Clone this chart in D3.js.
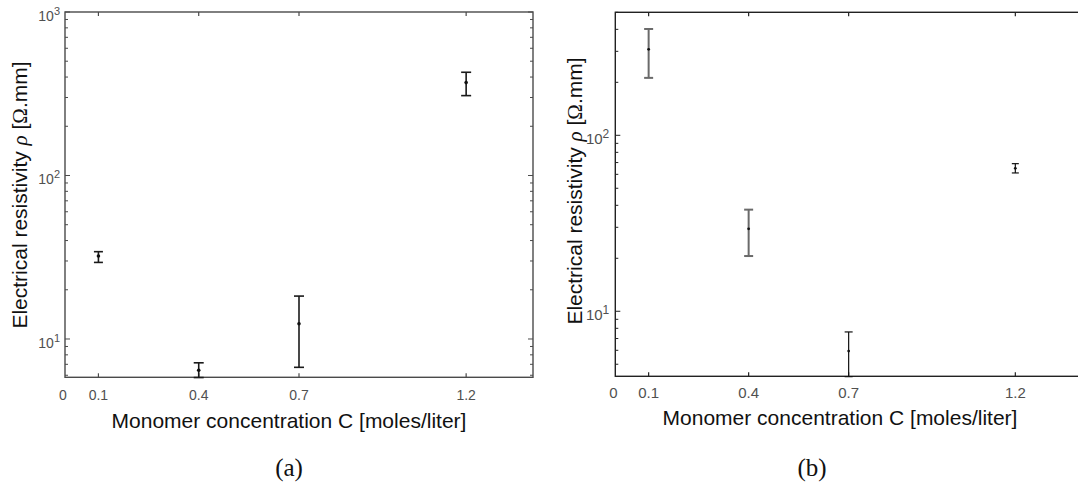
<!DOCTYPE html>
<html lang="en">
  <head>
    <meta charset="UTF-8">
    <title>Electrical resistivity vs monomer concentration</title>
    <style>
      body { margin: 0; background: #fff; }
      svg { display: block; }
      .tick-label { font-family: "Liberation Sans", Arial, sans-serif; fill: #505050; }
      .title { font-family: "Liberation Sans", Arial, sans-serif; font-size: 21px; fill: #111; }
      .panel-tag { font-family: "Liberation Serif", "Times New Roman", serif; font-size: 25px; fill: #111; }
      .sym { font-family: "Liberation Serif", "Times New Roman", serif; }
    </style>
    <script src="https://d3js.org/d3.v7.min.js"></script>
  </head>
  <body>
    <script>
      // values
      const concentration = [0.1, 0.4, 0.7, 1.2];
      const xTickValues = [0, 0.1, 0.4, 0.7, 1.2];

      // panel (a)
      const rhoA = [32.2, 6.44, 12.4, 370];
      const rhoALow = [29.4, 5.81, 6.71, 308];
      const rhoAHigh = [34.2, 7.15, 18.3, 428];

      // panel (b)
      const rhoB = [308, 29.4, 5.94, 64.9];
      const rhoBLow = [212, 20.6, 4.25, 61.1];
      const rhoBHigh = [402, 37.8, 7.63, 69.0];

      const width = 1078;
      const height = 484;

      const svg = d3.select("body")
        .append("svg")
        .attr("width", width)
        .attr("height", height);

      function drawPanel(p) {
        const g = svg.append("g");

        const x = d3.scaleLinear().domain([0, 1.4]).range([p.left, p.right]);
        const y = d3.scaleLog().domain(p.yDomain).range([p.bottom, p.top]);

        const allTicks = y.ticks();
        const majors = allTicks.filter(v => Math.abs(Math.log10(v) - Math.round(Math.log10(v))) < 1e-9);
        const minors = allTicks.filter(v => majors.indexOf(v) < 0);

        // box
        g.append("rect")
          .attr("x", p.left)
          .attr("y", p.top)
          .attr("width", p.right - p.left)
          .attr("height", p.bottom - p.top)
          .attr("fill", "none")
          .attr("stroke", p.axisColor)
          .attr("stroke-width", 1.4);

        // ticks on left / right (inside)
        const sides = p.rightTicks ? [p.left, p.right] : [p.left];
        sides.forEach(sx => {
          const dir = sx === p.left ? 1 : -1;
          g.append("g").selectAll("line")
            .data(minors)
            .join("line")
            .attr("x1", sx).attr("x2", sx + dir * 3)
            .attr("y1", d => y(d)).attr("y2", d => y(d))
            .attr("stroke", p.axisColor).attr("stroke-width", 1);
          g.append("g").selectAll("line")
            .data(majors)
            .join("line")
            .attr("x1", sx).attr("x2", sx + dir * 5)
            .attr("y1", d => y(d)).attr("y2", d => y(d))
            .attr("stroke", p.axisColor).attr("stroke-width", 1);
        });

        // x ticks bottom & top
        [p.bottom, p.top].forEach(sy => {
          const dir = sy === p.bottom ? -1 : 1;
          g.append("g").selectAll("line")
            .data(xTickValues.filter(v => v > 0))
            .join("line")
            .attr("x1", d => x(d)).attr("x2", d => x(d))
            .attr("y1", sy).attr("y2", sy + dir * 4)
            .attr("stroke", p.axisColor).attr("stroke-width", 1.2);
        });

        // x tick labels
        g.append("g").selectAll("text")
          .data(xTickValues)
          .join("text")
          .attr("class", "tick-label")
          .attr("x", d => x(d) - (d === 0 ? 2 : 0))
          .attr("y", p.bottom + p.xLabelDy)
          .attr("text-anchor", "middle")
          .style("font-size", p.tickFont + "px")
          .text(d => d === 0 ? "0" : d.toString());

        // y tick labels 10^n
        const yl = g.append("g").selectAll("text")
          .data(majors)
          .join("text")
          .attr("class", "tick-label")
          .attr("x", p.left - p.yLabelGap)
          .attr("y", d => y(d) + 9)
          .attr("text-anchor", "end")
          .style("font-size", p.tickFont + "px");
        yl.append("tspan").text("10");
        yl.append("tspan")
          .attr("dy", -6)
          .style("font-size", (p.tickFont - 3) + "px")
          .text(d => Math.round(Math.log10(d)));

        // error bars
        const pts = concentration.map((c, i) => ({
          c: c, v: p.values[i], lo: p.low[i], hi: p.high[i], i: i
        }));
        const bars = g.append("g").selectAll("g")
          .data(pts)
          .join("g");
        bars.append("line")
          .attr("x1", d => x(d.c)).attr("x2", d => x(d.c))
          .attr("y1", d => y(d.lo)).attr("y2", d => y(d.hi))
          .attr("stroke", d => p.barColor[d.i])
          .attr("stroke-width", d => p.barWidth[d.i]);
        ["lo", "hi"].forEach(k => {
          bars.append("line")
            .attr("x1", d => x(d.c) - p.capHalf[d.i])
            .attr("x2", d => x(d.c) + p.capHalf[d.i])
            .attr("y1", d => y(d[k])).attr("y2", d => y(d[k]))
            .attr("stroke", d => p.barColor[d.i])
            .attr("stroke-width", d => p.barWidth[d.i]);
        });
        bars.append("circle")
          .attr("cx", d => x(d.c))
          .attr("cy", d => y(d.v))
          .attr("r", p.dotR)
          .attr("fill", "#111");

        // axis titles
        const yt = g.append("text")
          .attr("class", "title")
          .attr("text-anchor", "middle")
          .attr("transform", `translate(${p.yTitleX},${p.yTitleY}) rotate(-90)`);
        yt.append("tspan").text("Electrical resistivity ");
        yt.append("tspan").attr("class", "sym").style("font-style", "italic").text("ρ");
        yt.append("tspan").text(" [");
        yt.append("tspan").attr("class", "sym").text("Ω");
        yt.append("tspan").text(".mm]");

        g.append("text")
          .attr("class", "title")
          .attr("text-anchor", "middle")
          .attr("x", p.xTitleX)
          .attr("y", p.xTitleY)
          .text("Monomer concentration C [moles/liter]");

        g.append("text")
          .attr("class", "panel-tag")
          .attr("text-anchor", "middle")
          .attr("x", p.tagX)
          .attr("y", 476)
          .text(p.tag);
      }

      drawPanel({
        left: 65, right: 533, top: 12, bottom: 377.3,
        yDomain: [5.83, 1000],
        values: rhoA, low: rhoALow, high: rhoAHigh,
        axisColor: "#4a4a4a", rightTicks: true,
        tickFont: 14, xLabelDy: 23, yLabelGap: 5,
        barColor: ["#1a1a1a", "#1a1a1a", "#1a1a1a", "#1a1a1a"],
        barWidth: [1.6, 1.6, 1.6, 1.6],
        capHalf: [4.5, 5, 5, 5],
        dotR: 1.8,
        yTitleX: 27, yTitleY: 195,
        xTitleX: 289, xTitleY: 428,
        tag: "(a)", tagX: 289
      });

      drawPanel({
        left: 615.3, right: 1082, top: 12.3, bottom: 376.3,
        yDomain: [4.27, 500],
        values: rhoB, low: rhoBLow, high: rhoBHigh,
        axisColor: "#222", rightTicks: false,
        tickFont: 15, xLabelDy: 22, yLabelGap: 6,
        barColor: ["#6a6a6a", "#6a6a6a", "#111", "#111"],
        barWidth: [2, 2, 1.2, 1.2],
        capHalf: [4.5, 4.5, 4, 3.5],
        dotR: 1.4,
        yTitleX: 582, yTitleY: 191,
        xTitleX: 840, xTitleY: 425,
        tag: "(b)", tagX: 812
      });
    </script>
  </body>
</html>
